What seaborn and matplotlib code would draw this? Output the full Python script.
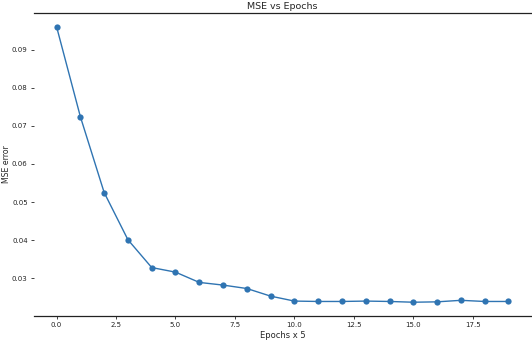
import numpy as np
import pandas as pd
import seaborn as sns
import matplotlib.pyplot as plt

# mse per logged epoch (every 5 epochs)
epochs = list(range(20))
mse = [0.0960, 0.0724, 0.0525, 0.0401, 0.0328, 0.0316, 0.0289, 0.0282, 0.0273, 0.0253,
       0.0240, 0.0239, 0.0239, 0.0240, 0.0239, 0.0237, 0.0238, 0.0242, 0.0239, 0.0239]

df = pd.DataFrame({"epoch": epochs, "mse": mse})

sns.set_style("white")
plt.rcParams["font.family"] = ["DejaVu Sans"]

fig = plt.figure(figsize=(5.32, 3.42), dpi=100)
ax = fig.add_axes([34 / 532, 26 / 342, 497 / 532, 303 / 342])

sns.lineplot(data=df, x="epoch", y="mse", marker="o", color="#2f74b2",
             linewidth=1.0, markersize=4.5, markeredgewidth=0, ax=ax)

ax.set_title("MSE vs Epochs", fontsize=6.8, pad=3)
ax.set_xlabel("Epochs x 5", fontsize=6.0, labelpad=2)
ax.set_ylabel("MSE error", fontsize=5.6)
ax.yaxis.set_label_coords(-0.046, 0.5)
ax.tick_params(axis="both", labelsize=5.0, length=2.5, width=0.6, pad=2, colors="#222222")
ax.tick_params(axis="both", left=True, bottom=True)

for side in ["left", "right"]:
    ax.spines[side].set_visible(False)
for side in ["top", "bottom"]:
    ax.spines[side].set_linewidth(0.9)
    ax.spines[side].set_color("#222222")

fig.savefig("out.png", dpi=100)
